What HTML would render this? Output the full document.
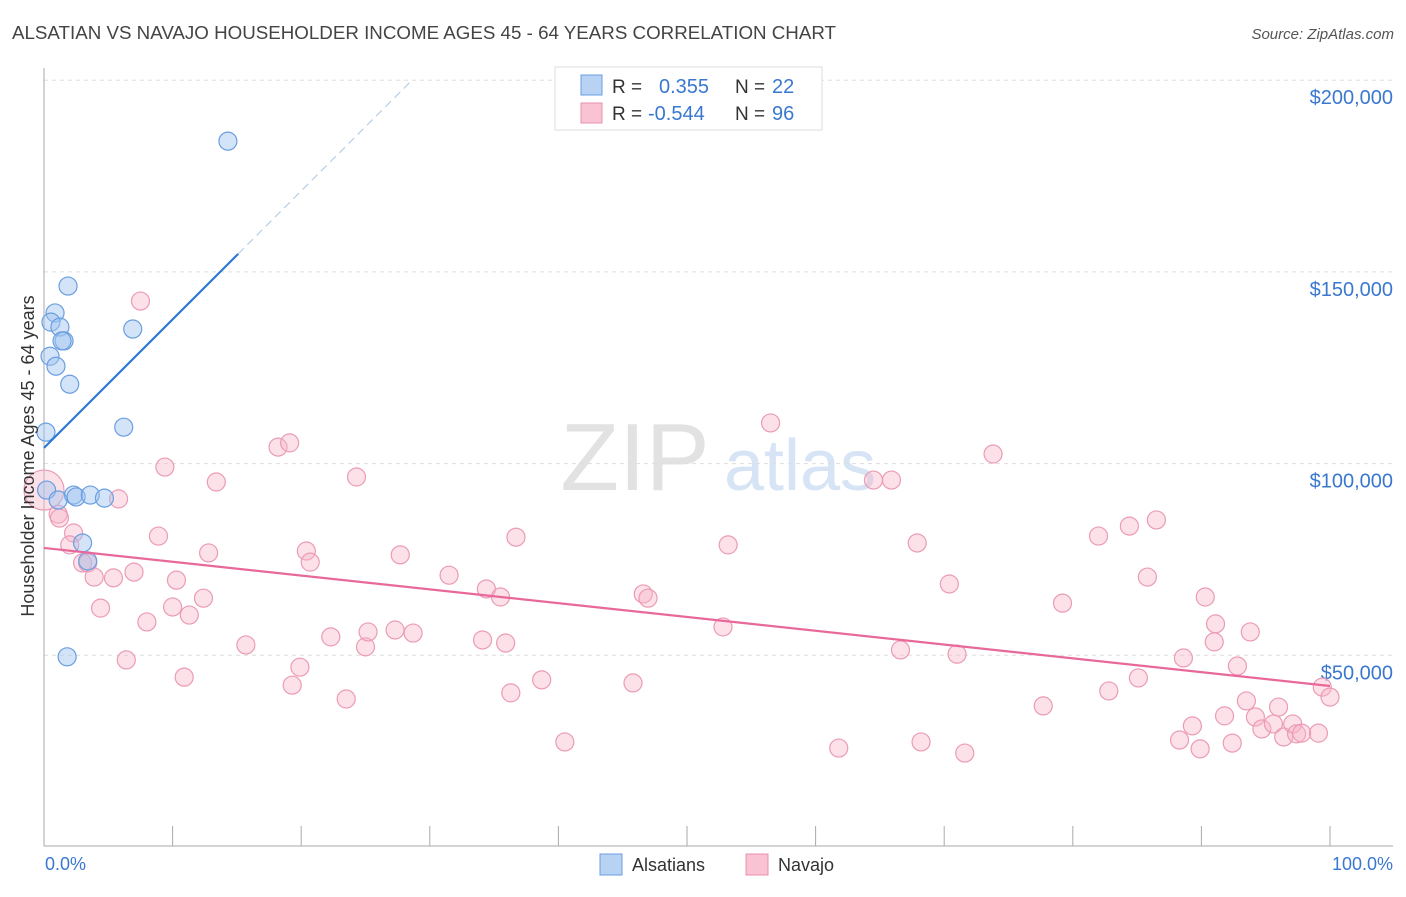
<!DOCTYPE html>
<html><head><meta charset="utf-8"><style>
body{margin:0;background:#fff;font-family:"Liberation Sans",sans-serif;}
svg text{font-family:"Liberation Sans",sans-serif;}
</style></head><body>
<svg id="c" width="1406" height="892">
<text x="12" y="39" font-size="18" fill="#444" textLength="824" lengthAdjust="spacingAndGlyphs">ALSATIAN VS NAVAJO HOUSEHOLDER INCOME AGES 45 - 64 YEARS CORRELATION CHART</text>
<text x="1394" y="39" font-size="15" fill="#555" font-style="italic" text-anchor="end">Source: ZipAtlas.com</text>
<text x="635" y="490" font-size="96" fill="#e2e2e2" font-family="Liberation Serif" text-anchor="middle">ZIP</text>
<text x="800" y="490" font-size="72" fill="#d6e4f6" text-anchor="middle">atlas</text>
<g id="grid"></g>
<g id="axes"></g>
<g id="pts"></g>
<g id="trend"></g>
<text transform="translate(34,456) rotate(-90)" font-size="18" fill="#333" text-anchor="middle">Householder Income Ages 45 - 64 years</text>
<text x="45" y="870" font-size="18" fill="#3a78d0">0.0%</text>
<text x="1393" y="870" font-size="18" fill="#3a78d0" text-anchor="end">100.0%</text>
<g>
<rect x="555" y="67" width="267" height="63" fill="#fff" stroke="#ddd"/>
<rect x="581" y="75" width="21" height="20" fill="#b8d2f4" stroke="#6a9ee0"/>
<rect x="581" y="103" width="21" height="20" fill="#f9c3d3" stroke="#e890ab"/>
<text x="612" y="93" font-size="19" fill="#333">R = </text><text x="659" y="93" font-size="20" fill="#3a78d0">0.355</text>
<text x="735" y="93" font-size="19" fill="#333">N = </text><text x="772" y="93" font-size="20" fill="#3a78d0">22</text>
<text x="612" y="120" font-size="19" fill="#333">R = </text><text x="648" y="120" font-size="20" fill="#3a78d0">-0.544</text>
<text x="735" y="120" font-size="19" fill="#333">N = </text><text x="772" y="120" font-size="20" fill="#3a78d0">96</text>
</g>
<g>
<rect x="600" y="854" width="22" height="21" fill="#b8d2f4" stroke="#6a9ee0"/>
<text x="632" y="871" font-size="18" fill="#333">Alsatians</text>
<rect x="746" y="854" width="22" height="21" fill="#f9c3d3" stroke="#e890ab"/>
<text x="778" y="871" font-size="18" fill="#333">Navajo</text>
</g>
</svg>
<script>
const yTicks=[50000,100000,150000,200000];
const yTickLabels=["$50,000","$100,000","$150,000","$200,000"];
const xTicks=[0,10,20,30,40,50,60,70,80,90,100];
const blueX=[14.3,1.87,0.86,0.54,1.24,1.56,1.4,0.47,0.93,2.0,6.9,6.2,0.15,0.2,1.1,2.3,2.5,3.6,4.7,3.0,3.4,1.8];
const blueY=[184100,146300,139300,136900,135600,132000,132000,128000,125400,120700,135100,109500,108200,93100,90500,91800,91300,91800,91000,79300,74600,49600];
const pinkX=[0,1.1,1.2,2.3,2.0,3.0,3.4,3.9,4.4,5.4,5.8,6.4,7.0,7.5,8.0,8.9,9.4,10.3,10.0,10.9,11.3,12.4,13.4,12.8,15.7,18.2,19.1,19.3,19.9,20.4,20.7,22.3,23.5,24.3,25.0,25.2,27.3,27.7,28.7,31.5,34.1,34.4,35.5,35.9,36.3,36.7,38.7,40.5,45.8,46.6,46.97,52.8,53.2,56.5,61.8,64.5,66.6,67.9,68.2,70.4,71.0,71.6,73.8,77.7,79.2,82.0,82.8,84.4,85.8,86.5,85.1,88.3,88.6,89.3,89.9,90.3,91.0,91.1,91.8,92.4,92.8,93.5,94.2,94.7,95.6,96.0,96.4,97.1,97.4,97.8,99.1,99.4,100,93.8,65.9];
const pinkY=[93100,86800,85800,81900,78800,74100,74100,70400,62300,70200,90800,48800,71700,142400,58700,81100,99100,69600,62600,44300,60500,64900,95200,76700,52700,104300,105400,42200,46900,77200,74300,54800,38600,96500,52200,56100,56600,76200,55800,70900,54000,67300,65200,53200,40200,80800,43600,27400,42800,66000,64900,57400,78800,110600,25800,95700,51400,79300,27400,68600,50300,24500,102500,36800,63600,81100,40700,83700,70400,85300,44100,27900,49300,31600,25600,65200,53500,58200,34200,27100,47200,38100,33900,30800,32100,36500,28700,32100,29500,29700,29700,41700,39100,56100,95700];
const blueTrend=[104100,3351];
const pinkTrend=[78000,-360];
const X0=44,X1=1330,Y0=847,PX=191.7/50000;
const xs=v=>X0+(X1-X0)*v/100, ys=v=>Y0-v*PX;
const NS="http://www.w3.org/2000/svg";
function mk(tag,attrs,parent){const e=document.createElementNS(NS,tag);for(const k in attrs)e.setAttribute(k,attrs[k]);document.getElementById(parent).appendChild(e);return e;}
yTicks.forEach((t,i)=>{
 const l=mk('line',{x1:44,x2:1393,y1:ys(t),y2:ys(t),stroke:'#ddd','stroke-dasharray':'4,4'},'grid');
 
 
 const tx=mk('text',{x:1393,y:ys(t)+24,'font-size':20,fill:'#3a78d0','text-anchor':'end'},'grid');
 tx.textContent=yTickLabels[i];
 
 
});
const ya=mk('line',{x1:44,x2:44,y1:68,y2:846,stroke:'#aaa'},'axes');


const xa=mk('line',{x1:44,x2:1393,y1:846,y2:846,stroke:'#aaa'},'axes');


xTicks.forEach(t=>{
 const l=mk('line',{x1:xs(t),x2:xs(t),y1:826,y2:846,stroke:'#aaa'},'axes');
 
 
});
pinkX.forEach((x,i)=>{
 const c=mk('circle',{cx:xs(x),cy:ys(pinkY[i]),r:i===0?20:9,fill:'rgba(248,180,200,0.4)',stroke:'#eb9bb5','stroke-width':1.2},'pts');
 
 
});
blueX.forEach((x,i)=>{
 const c=mk('circle',{cx:xs(x),cy:ys(blueY[i]),r:9,fill:'rgba(160,196,240,0.45)',stroke:'#6a9ee0','stroke-width':1.2},'pts');
 
 
});
const bEnd=15.1,bDash=28.5;
const b1=mk('line',{x1:xs(0),y1:ys(blueTrend[0]),x2:xs(bEnd),y2:ys(blueTrend[0]+blueTrend[1]*bEnd),stroke:'#2f78d8','stroke-width':2.2},'trend');


const b2=mk('line',{x1:xs(bEnd),y1:ys(blueTrend[0]+blueTrend[1]*bEnd),x2:xs(bDash),y2:ys(blueTrend[0]+blueTrend[1]*bDash),stroke:'#b8cde8','stroke-width':1.2,'stroke-dasharray':'8,5'},'trend');


const p1=mk('line',{x1:xs(0),y1:ys(pinkTrend[0]),x2:xs(100),y2:ys(pinkTrend[0]+pinkTrend[1]*100),stroke:'#e8689a','stroke-width':2.2},'trend');


</script>
</body></html>
